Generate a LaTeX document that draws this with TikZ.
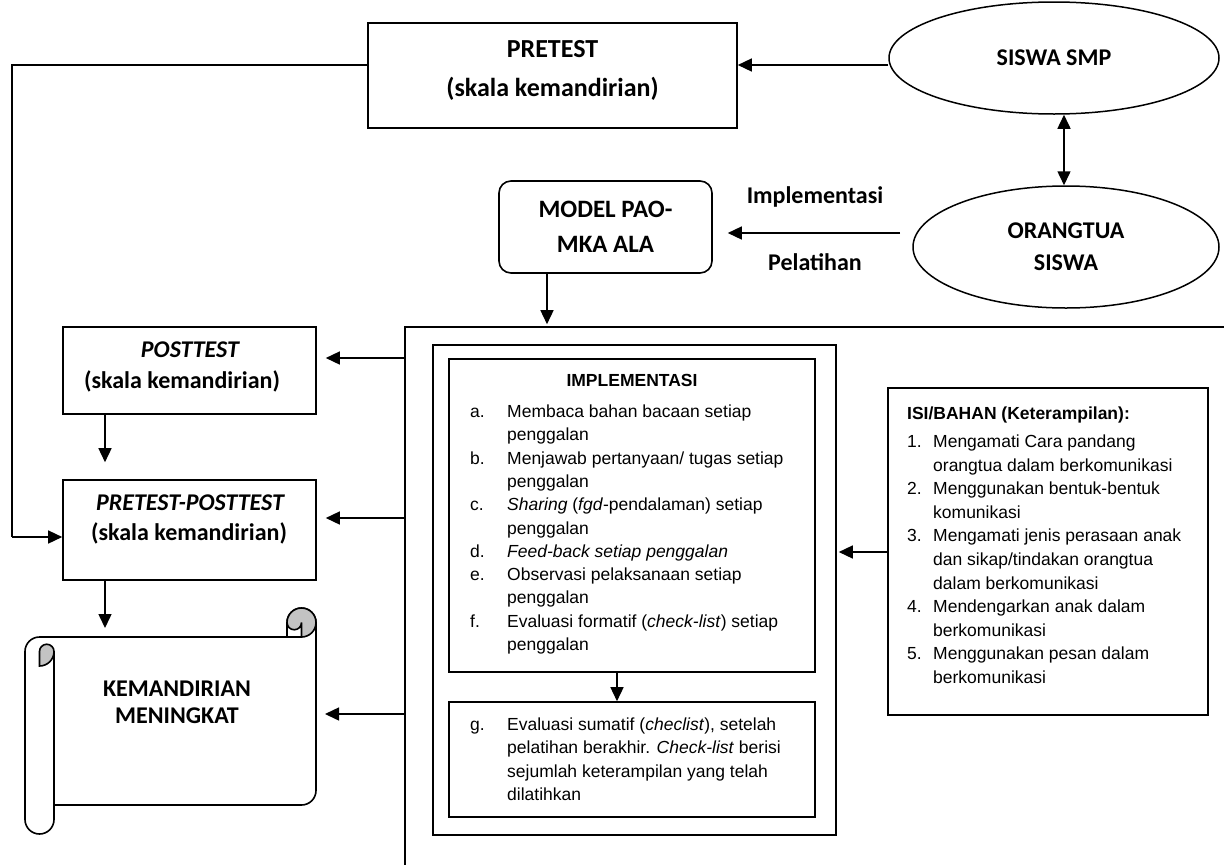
\documentclass[tikz,border=0pt]{standalone}
\usepackage{fontspec}
\setmainfont{Liberation Sans}
\newfontfamily\carl{Carlito}
\usetikzlibrary{arrows.meta,shapes.geometric}
\definecolor{curl}{RGB}{195,195,195}
\begin{document}
\begin{tikzpicture}[x=1pt,y=-1pt,
  lbl/.style={font=\carl\bfseries\fontsize{24}{28}\selectfont, inner sep=0pt, anchor=base},
  biglbl/.style={font=\carl\bfseries\fontsize{26}{30}\selectfont, inner sep=0pt, anchor=base},
  ilbl/.style={font=\carl\bfseries\itshape\fontsize{24}{28}\selectfont, inner sep=0pt, anchor=base},
  ar/.style={font=\fontsize{17.5}{21}\selectfont, inner sep=0pt, anchor=base west},
  box/.style={draw, line width=1.6pt, rectangle, inner sep=0pt},
  oval/.style={draw, line width=1.5pt, ellipse, inner sep=0pt, align=center, font=\carl\bfseries\fontsize{24}{32}\selectfont},
  arr/.style={line width=1.5pt, -{Triangle[length=14pt,width=13pt]}},
  darr/.style={line width=1.5pt, {Triangle[length=14pt,width=13pt]}-{Triangle[length=14pt,width=13pt]}},
]
\useasboundingbox (0,0) rectangle (1224,865);
\fill[white] (0,0) rectangle (1224,865);
\clip (0,0) rectangle (1224,865);

% ---- top row
\node[box, minimum width=369pt, minimum height=105pt] (pre) at (552.5,75.5) {};
\node[biglbl] (preT1) at (552.5,57) {PRETEST};
\node[biglbl] (preT2) at (552.5,96) {(skala kemandirian)};

\node[oval, minimum width=330pt, minimum height=112pt] (sis) at (1054,58) {SISWA SMP};
\node[oval, minimum width=306pt, minimum height=122pt] (orang) at (1066,247) {ORANGTUA\\SISWA};

\node[draw, line width=1.6pt, rounded corners=12pt, minimum width=213pt, minimum height=92pt,
      align=center, font=\carl\bfseries\fontsize{25}{35}\selectfont] (model) at (605.5,227) {MODEL PAO-\\MKA ALA};

\node[lbl] (impl) at (815,203) {Implementasi};
\node[lbl] (pel) at (815,270) {Pelatihan};

% ---- frames
\node[box, minimum width=845pt, minimum height=553pt] (frame) at (827.5,603.5) {};
\node[box, minimum width=403pt, minimum height=490pt] (frame2) at (634.5,590) {};
\node[box, minimum width=366pt, minimum height=313pt] (imp) at (632,515.5) {};
\node[box, minimum width=366pt, minimum height=115pt] (gbox) at (632,759.5) {};
\node[box, minimum width=320pt, minimum height=327pt] (isi) at (1048,551.5) {};

% ---- left boxes
\node[box, minimum width=253pt, minimum height=87pt] (post) at (189.5,370.5) {};
\node[ilbl] (postT1) at (190,357) {POSTTEST};
\node[lbl] (postT2) at (182,388) {(skala kemandirian)};
\node[box, minimum width=253pt, minimum height=100pt] (prepost) at (189.5,530) {};
\node[ilbl] (ppT1) at (190,510) {PRETEST-POSTTEST};
\node[lbl] (ppT2) at (189,540) {(skala kemandirian)};

% ---- scroll
\draw[line width=1.6pt, fill=white] (25,651.5) arc[start angle=180, end angle=270, radius=14.5]
  -- (287,637) -- (287,622.5) arc[start angle=180, end angle=360, radius=14.5]
  -- (316,790.5) arc[start angle=0, end angle=90, radius=14.5]
  -- (54,805) -- (54,819.5) arc[start angle=0, end angle=180, radius=14.5] -- cycle;
\filldraw[line width=1.6pt, fill=curl] (301.5,622.5) circle[radius=14.5];
\filldraw[line width=1.6pt, fill=white] (287,637) -- (287,622.5)
  arc[start angle=180, end angle=0, radius=7.25] -- (301.5,637) -- cycle;
\filldraw[line width=1.6pt, fill=curl] (39.5,651.5) arc[start angle=180, end angle=360, radius=7.25]
  arc[start angle=0, end angle=90, radius=14.5] -- cycle;
\draw[line width=1.6pt] (54,651.5) -- (54,805);
\coordinate (scrollN) at (105,637);
\coordinate (scrollE) at (316,714);
\node[lbl] (kemT1) at (177,696) {KEMANDIRIAN};
\node[lbl] (kemT2) at (177,723) {MENINGKAT};

% ---- IMPLEMENTASI text
\node[ar, anchor=base, font=\bfseries\fontsize{17.5}{21}\selectfont] (impH) at (632,386) {IMPLEMENTASI};
\foreach \yy/\lab [count=\i] in {417.5/a., 464.1/b., 510.7/c., 557.3/d., 580.6/e., 627.2/f.}
  \node[ar] (impL\i) at (470,\yy) {\lab};
\foreach \yy/\txt [count=\i] in {
  417.5/{Membaca bahan bacaan setiap},
  440.8/{penggalan},
  464.1/{Menjawab pertanyaan/ tugas setiap},
  487.4/{penggalan},
  510.7/{\textit{Sharing} (\textit{fgd}-pendalaman) setiap},
  534.0/{penggalan},
  557.3/{\textit{Feed-back setiap penggalan}},
  580.6/{Observasi pelaksanaan setiap},
  603.9/{penggalan},
  627.2/{Evaluasi formatif (\textit{check-list}) setiap},
  650.5/{penggalan}}
  \node[ar] (impX\i) at (507,\yy) {\txt};

\node[ar] (gL) at (470,730.5) {g.};
\foreach \yy/\txt [count=\i] in {
  730.5/{Evaluasi sumatif (\textit{checlist}), setelah},
  753.8/{pelatihan berakhir. \textit{Check-list} berisi},
  777.1/{sejumlah keterampilan yang telah},
  800.4/{dilatihkan}}
  \node[ar] (gX\i) at (507,\yy) {\txt};

% ---- ISI text
\node[ar, font=\bfseries\fontsize{17.5}{21}\selectfont] (isiH) at (907,419) {ISI/BAHAN (Keterampilan):};
\foreach \yy/\lab [count=\i] in {447.5/1., 494.7/2., 541.9/3., 612.7/4., 659.9/5.}
  \node[ar] (isiL\i) at (907,\yy) {\lab};
\foreach \yy/\txt [count=\i] in {
  447.5/{Mengamati Cara pandang},
  471.1/{orangtua dalam berkomunikasi},
  494.7/{Menggunakan bentuk-bentuk},
  518.3/{komunikasi},
  541.9/{Mengamati jenis perasaan anak},
  565.5/{dan sikap/tindakan orangtua},
  589.1/{dalam berkomunikasi},
  612.7/{Mendengarkan anak dalam},
  636.3/{berkomunikasi},
  659.9/{Menggunakan pesan dalam},
  683.5/{berkomunikasi}}
  \node[ar] (isiX\i) at (933,\yy) {\txt};

% ---- connectors
\coordinate (yA) at (0,65);
\coordinate (lb1) at (12,65);
\coordinate (lb2) at (12,537);
\draw[arr] (sis.west |- yA) -- (pre.east |- yA);
\draw[darr] (sis.south -| 1064,0) -- (orang.north -| 1064,0);
\coordinate (oA) at (900,233);
\draw[arr, shorten >=15pt] (oA) -- (model.east |- oA);
\coordinate (mA) at (547,273);
\draw[arr, shorten >=2pt] (mA) -- (mA |- frame.north);
\draw[line width=1.5pt] (pre.west |- yA) -- (lb1) -- (lb2);
\draw[arr] (lb2) -- (prepost.west |- lb2);
\draw[arr, shorten >=9pt] (frame.west |- 0,358) -- (post.east |- 0,358);
\draw[arr, shorten >=9pt] (frame.west |- 0,518) -- (prepost.east |- 0,518);
\draw[arr, shorten >=9pt] (frame.west |- scrollE) -- (scrollE);
\draw[arr, shorten >=17pt] (post.south -| 105,0) -- (prepost.north -| 105,0);
\draw[arr, shorten >=9pt] (prepost.south -| scrollN) -- (scrollN);
\draw[arr] (imp.south -| 617,0) -- (gbox.north -| 617,0);
\draw[arr, shorten >=2pt] (isi.west |- 0,552) -- (frame2.east |- 0,552);
\end{tikzpicture}
\end{document}
